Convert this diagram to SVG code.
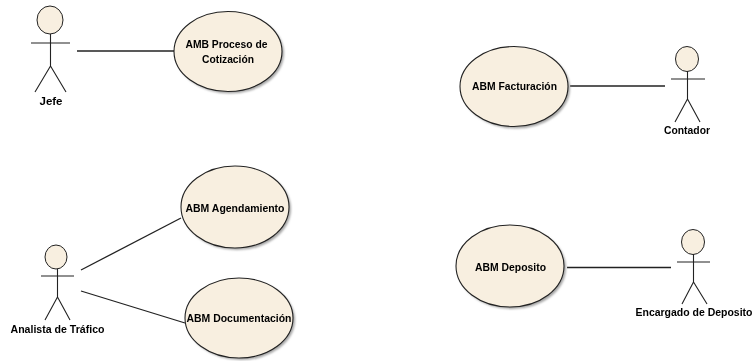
<svg xmlns="http://www.w3.org/2000/svg" width="753" height="361" viewBox="0 0 753 361">
<defs>
<filter id="soft" x="-10%" y="-10%" width="120%" height="120%"><feGaussianBlur stdDeviation="1"/></filter>
<filter id="ink" x="-5%" y="-20%" width="110%" height="140%"><feGaussianBlur stdDeviation="0.35"/></filter>
</defs>
<style>
.bg{fill:#fff}
.uc{fill:#f8efe0;stroke:#222;stroke-width:1.1}
.sh{fill:#a5a5a5;filter:url(#soft)}
.head{fill:#f8efe0;stroke:#222;stroke-width:1}
.st{fill:none;stroke:#222;stroke-width:1.1}
.cn{stroke:#222;stroke-width:1.3;fill:none}
text{font-family:"Liberation Sans",Arial,sans-serif;font-weight:700;font-size:10.5px;fill:#000;text-anchor:middle;filter:url(#ink)}
</style>
<rect class="bg" width="753" height="361"/>
<g id="connectors">
<line class="cn" x1="77" y1="51" x2="174" y2="51"/>
<line class="cn" x1="81" y1="270" x2="181" y2="218"/>
<line class="cn" x1="81" y1="291" x2="185" y2="323"/>
<line class="cn" x1="570" y1="86" x2="665" y2="86"/>
<line class="cn" x1="567" y1="267.500" x2="671" y2="267.500"/>
</g>
<g id="actor-jefe">
<ellipse class="head" cx="50" cy="20" rx="13" ry="14"/>
<path class="st" d="M31 43H70M50.500 34V66M50.500 66L35 92M50.500 66L66 92"/>
<text x="51" y="105" textLength="23" lengthAdjust="spacingAndGlyphs">Jefe</text>
</g>
<g id="usecase-cotizacion">
<ellipse class="sh" cx="230" cy="53.500" rx="54" ry="40"/>
<ellipse class="uc" cx="228" cy="51.500" rx="54" ry="40"/>
<text x="226.500" y="48" textLength="82" lengthAdjust="spacingAndGlyphs">AMB Proceso de</text>
<text x="228" y="63" textLength="52" lengthAdjust="spacingAndGlyphs">Cotización</text>
</g>
<g id="actor-analista">
<ellipse class="head" cx="56" cy="257" rx="11" ry="12"/>
<path class="st" d="M41 276H74M57.500 269V297M57.500 297L45 320M57.500 297L70 320"/>
<text x="57.500" y="332.500" textLength="94" lengthAdjust="spacingAndGlyphs">Analista de Tráfico</text>
</g>
<g id="usecase-agendamiento">
<ellipse class="sh" cx="237" cy="209" rx="54" ry="41"/>
<ellipse class="uc" cx="235" cy="207" rx="54" ry="41"/>
<text x="235" y="212" textLength="99" lengthAdjust="spacingAndGlyphs">ABM Agendamiento</text>
</g>
<g id="usecase-documentacion">
<ellipse class="sh" cx="241" cy="320" rx="54" ry="40"/>
<ellipse class="uc" cx="239" cy="318" rx="54" ry="40"/>
<text x="239" y="322" textLength="105" lengthAdjust="spacingAndGlyphs">ABM Documentación</text>
</g>
<g id="usecase-facturacion">
<ellipse class="sh" cx="516" cy="88.500" rx="54" ry="40"/>
<ellipse class="uc" cx="514" cy="86.500" rx="54" ry="40"/>
<text x="514.500" y="90" textLength="85" lengthAdjust="spacingAndGlyphs">ABM Facturación</text>
</g>
<g id="actor-contador">
<ellipse class="head" cx="687" cy="59" rx="11.500" ry="12.500"/>
<path class="st" d="M671 79H705M687.500 71V99M687.500 99L675 122M687.500 99L700 122"/>
<text x="687" y="134" textLength="46" lengthAdjust="spacingAndGlyphs">Contador</text>
</g>
<g id="usecase-deposito">
<ellipse class="sh" cx="512" cy="268" rx="54" ry="41"/>
<ellipse class="uc" cx="510" cy="266" rx="54" ry="41"/>
<text x="510.500" y="271" textLength="71" lengthAdjust="spacingAndGlyphs">ABM Deposito</text>
</g>
<g id="actor-encargado">
<ellipse class="head" cx="693" cy="242" rx="11.500" ry="12.500"/>
<path class="st" d="M677 262H710M693.500 254V282M693.500 282L682 304M693.500 282L707 304"/>
<text x="694" y="316" textLength="117" lengthAdjust="spacingAndGlyphs">Encargado de Deposito</text>
</g>
</svg>
